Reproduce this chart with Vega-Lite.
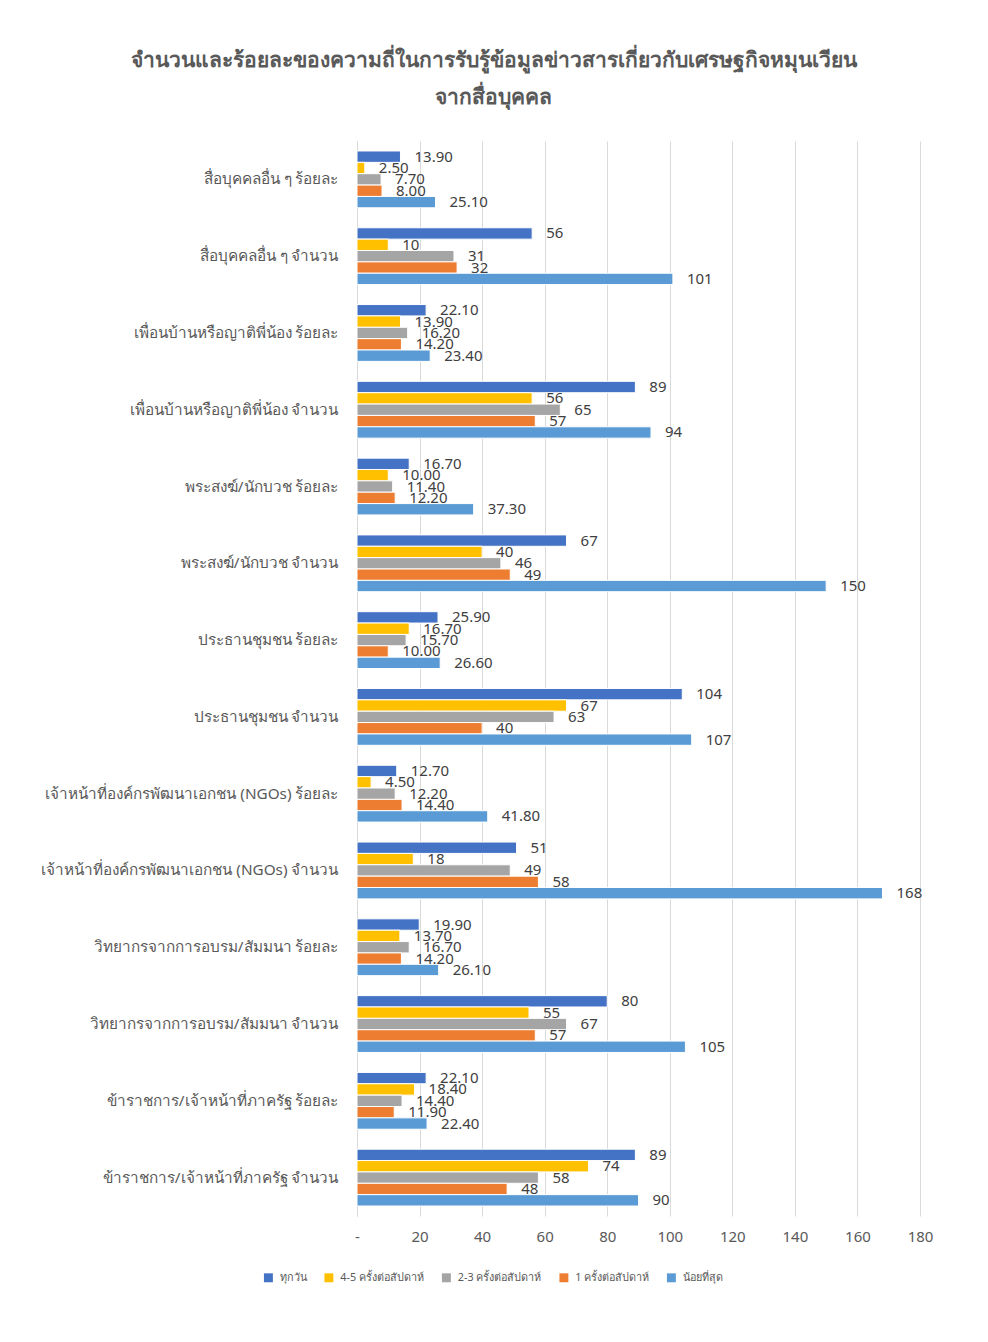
{
  "$schema": "https://vega.github.io/schema/vega-lite/v6.json",
  "width": 563,
  "height": 1075,
  "autosize": {"type": "none"},
  "padding": {"left": 357, "top": 141, "right": 68, "bottom": 126},
  "background": "white",
  "config": {
    "font": "Noto Sans",
    "view": {"stroke": null}
  },
  "title": {
    "text": ["จำนวนและร้อยละของความถี่ในการรับรู้ข้อมูลข่าวสารเกี่ยวกับเศรษฐกิจหมุนเวียน", "จากสื่อบุคคล"],
    "anchor": "middle",
    "frame": "group",
    "dx": -145,
    "offset": 33,
    "fontSize": 21,
    "fontWeight": "bold",
    "color": "#595959",
    "lineHeight": 37
  },
  "data": {
    "values": [
      {"c": "สื่อบุคคลอื่น ๆ ร้อยละ", "s": "ทุกวัน", "v": 13.9},
      {"c": "สื่อบุคคลอื่น ๆ ร้อยละ", "s": "4-5 ครั้งต่อสัปดาห์", "v": 2.5},
      {"c": "สื่อบุคคลอื่น ๆ ร้อยละ", "s": "2-3 ครั้งต่อสัปดาห์", "v": 7.7},
      {"c": "สื่อบุคคลอื่น ๆ ร้อยละ", "s": "1 ครั้งต่อสัปดาห์", "v": 8.0},
      {"c": "สื่อบุคคลอื่น ๆ ร้อยละ", "s": "น้อยที่สุด", "v": 25.1},
      {"c": "สื่อบุคคลอื่น ๆ จำนวน", "s": "ทุกวัน", "v": 56},
      {"c": "สื่อบุคคลอื่น ๆ จำนวน", "s": "4-5 ครั้งต่อสัปดาห์", "v": 10},
      {"c": "สื่อบุคคลอื่น ๆ จำนวน", "s": "2-3 ครั้งต่อสัปดาห์", "v": 31},
      {"c": "สื่อบุคคลอื่น ๆ จำนวน", "s": "1 ครั้งต่อสัปดาห์", "v": 32},
      {"c": "สื่อบุคคลอื่น ๆ จำนวน", "s": "น้อยที่สุด", "v": 101},
      {"c": "เพื่อนบ้านหรือญาติพี่น้อง ร้อยละ", "s": "ทุกวัน", "v": 22.1},
      {"c": "เพื่อนบ้านหรือญาติพี่น้อง ร้อยละ", "s": "4-5 ครั้งต่อสัปดาห์", "v": 13.9},
      {"c": "เพื่อนบ้านหรือญาติพี่น้อง ร้อยละ", "s": "2-3 ครั้งต่อสัปดาห์", "v": 16.2},
      {"c": "เพื่อนบ้านหรือญาติพี่น้อง ร้อยละ", "s": "1 ครั้งต่อสัปดาห์", "v": 14.2},
      {"c": "เพื่อนบ้านหรือญาติพี่น้อง ร้อยละ", "s": "น้อยที่สุด", "v": 23.4},
      {"c": "เพื่อนบ้านหรือญาติพี่น้อง จำนวน", "s": "ทุกวัน", "v": 89},
      {"c": "เพื่อนบ้านหรือญาติพี่น้อง จำนวน", "s": "4-5 ครั้งต่อสัปดาห์", "v": 56},
      {"c": "เพื่อนบ้านหรือญาติพี่น้อง จำนวน", "s": "2-3 ครั้งต่อสัปดาห์", "v": 65},
      {"c": "เพื่อนบ้านหรือญาติพี่น้อง จำนวน", "s": "1 ครั้งต่อสัปดาห์", "v": 57},
      {"c": "เพื่อนบ้านหรือญาติพี่น้อง จำนวน", "s": "น้อยที่สุด", "v": 94},
      {"c": "พระสงฆ์/นักบวช ร้อยละ", "s": "ทุกวัน", "v": 16.7},
      {"c": "พระสงฆ์/นักบวช ร้อยละ", "s": "4-5 ครั้งต่อสัปดาห์", "v": 10.0},
      {"c": "พระสงฆ์/นักบวช ร้อยละ", "s": "2-3 ครั้งต่อสัปดาห์", "v": 11.4},
      {"c": "พระสงฆ์/นักบวช ร้อยละ", "s": "1 ครั้งต่อสัปดาห์", "v": 12.2},
      {"c": "พระสงฆ์/นักบวช ร้อยละ", "s": "น้อยที่สุด", "v": 37.3},
      {"c": "พระสงฆ์/นักบวช จำนวน", "s": "ทุกวัน", "v": 67},
      {"c": "พระสงฆ์/นักบวช จำนวน", "s": "4-5 ครั้งต่อสัปดาห์", "v": 40},
      {"c": "พระสงฆ์/นักบวช จำนวน", "s": "2-3 ครั้งต่อสัปดาห์", "v": 46},
      {"c": "พระสงฆ์/นักบวช จำนวน", "s": "1 ครั้งต่อสัปดาห์", "v": 49},
      {"c": "พระสงฆ์/นักบวช จำนวน", "s": "น้อยที่สุด", "v": 150},
      {"c": "ประธานชุมชน ร้อยละ", "s": "ทุกวัน", "v": 25.9},
      {"c": "ประธานชุมชน ร้อยละ", "s": "4-5 ครั้งต่อสัปดาห์", "v": 16.7},
      {"c": "ประธานชุมชน ร้อยละ", "s": "2-3 ครั้งต่อสัปดาห์", "v": 15.7},
      {"c": "ประธานชุมชน ร้อยละ", "s": "1 ครั้งต่อสัปดาห์", "v": 10.0},
      {"c": "ประธานชุมชน ร้อยละ", "s": "น้อยที่สุด", "v": 26.6},
      {"c": "ประธานชุมชน จำนวน", "s": "ทุกวัน", "v": 104},
      {"c": "ประธานชุมชน จำนวน", "s": "4-5 ครั้งต่อสัปดาห์", "v": 67},
      {"c": "ประธานชุมชน จำนวน", "s": "2-3 ครั้งต่อสัปดาห์", "v": 63},
      {"c": "ประธานชุมชน จำนวน", "s": "1 ครั้งต่อสัปดาห์", "v": 40},
      {"c": "ประธานชุมชน จำนวน", "s": "น้อยที่สุด", "v": 107},
      {"c": "เจ้าหน้าที่องค์กรพัฒนาเอกชน (NGOs) ร้อยละ", "s": "ทุกวัน", "v": 12.7},
      {"c": "เจ้าหน้าที่องค์กรพัฒนาเอกชน (NGOs) ร้อยละ", "s": "4-5 ครั้งต่อสัปดาห์", "v": 4.5},
      {"c": "เจ้าหน้าที่องค์กรพัฒนาเอกชน (NGOs) ร้อยละ", "s": "2-3 ครั้งต่อสัปดาห์", "v": 12.2},
      {"c": "เจ้าหน้าที่องค์กรพัฒนาเอกชน (NGOs) ร้อยละ", "s": "1 ครั้งต่อสัปดาห์", "v": 14.4},
      {"c": "เจ้าหน้าที่องค์กรพัฒนาเอกชน (NGOs) ร้อยละ", "s": "น้อยที่สุด", "v": 41.8},
      {"c": "เจ้าหน้าที่องค์กรพัฒนาเอกชน (NGOs) จำนวน", "s": "ทุกวัน", "v": 51},
      {"c": "เจ้าหน้าที่องค์กรพัฒนาเอกชน (NGOs) จำนวน", "s": "4-5 ครั้งต่อสัปดาห์", "v": 18},
      {"c": "เจ้าหน้าที่องค์กรพัฒนาเอกชน (NGOs) จำนวน", "s": "2-3 ครั้งต่อสัปดาห์", "v": 49},
      {"c": "เจ้าหน้าที่องค์กรพัฒนาเอกชน (NGOs) จำนวน", "s": "1 ครั้งต่อสัปดาห์", "v": 58},
      {"c": "เจ้าหน้าที่องค์กรพัฒนาเอกชน (NGOs) จำนวน", "s": "น้อยที่สุด", "v": 168},
      {"c": "วิทยากรจากการอบรม/สัมมนา ร้อยละ", "s": "ทุกวัน", "v": 19.9},
      {"c": "วิทยากรจากการอบรม/สัมมนา ร้อยละ", "s": "4-5 ครั้งต่อสัปดาห์", "v": 13.7},
      {"c": "วิทยากรจากการอบรม/สัมมนา ร้อยละ", "s": "2-3 ครั้งต่อสัปดาห์", "v": 16.7},
      {"c": "วิทยากรจากการอบรม/สัมมนา ร้อยละ", "s": "1 ครั้งต่อสัปดาห์", "v": 14.2},
      {"c": "วิทยากรจากการอบรม/สัมมนา ร้อยละ", "s": "น้อยที่สุด", "v": 26.1},
      {"c": "วิทยากรจากการอบรม/สัมมนา จำนวน", "s": "ทุกวัน", "v": 80},
      {"c": "วิทยากรจากการอบรม/สัมมนา จำนวน", "s": "4-5 ครั้งต่อสัปดาห์", "v": 55},
      {"c": "วิทยากรจากการอบรม/สัมมนา จำนวน", "s": "2-3 ครั้งต่อสัปดาห์", "v": 67},
      {"c": "วิทยากรจากการอบรม/สัมมนา จำนวน", "s": "1 ครั้งต่อสัปดาห์", "v": 57},
      {"c": "วิทยากรจากการอบรม/สัมมนา จำนวน", "s": "น้อยที่สุด", "v": 105},
      {"c": "ข้าราชการ/เจ้าหน้าที่ภาครัฐ ร้อยละ", "s": "ทุกวัน", "v": 22.1},
      {"c": "ข้าราชการ/เจ้าหน้าที่ภาครัฐ ร้อยละ", "s": "4-5 ครั้งต่อสัปดาห์", "v": 18.4},
      {"c": "ข้าราชการ/เจ้าหน้าที่ภาครัฐ ร้อยละ", "s": "2-3 ครั้งต่อสัปดาห์", "v": 14.4},
      {"c": "ข้าราชการ/เจ้าหน้าที่ภาครัฐ ร้อยละ", "s": "1 ครั้งต่อสัปดาห์", "v": 11.9},
      {"c": "ข้าราชการ/เจ้าหน้าที่ภาครัฐ ร้อยละ", "s": "น้อยที่สุด", "v": 22.4},
      {"c": "ข้าราชการ/เจ้าหน้าที่ภาครัฐ จำนวน", "s": "ทุกวัน", "v": 89},
      {"c": "ข้าราชการ/เจ้าหน้าที่ภาครัฐ จำนวน", "s": "4-5 ครั้งต่อสัปดาห์", "v": 74},
      {"c": "ข้าราชการ/เจ้าหน้าที่ภาครัฐ จำนวน", "s": "2-3 ครั้งต่อสัปดาห์", "v": 58},
      {"c": "ข้าราชการ/เจ้าหน้าที่ภาครัฐ จำนวน", "s": "1 ครั้งต่อสัปดาห์", "v": 48},
      {"c": "ข้าราชการ/เจ้าหน้าที่ภาครัฐ จำนวน", "s": "น้อยที่สุด", "v": 90}
    ]
  },
  "encoding": {
    "y": {
      "field": "c",
      "type": "nominal",
      "sort": null,
      "scale": {"paddingInner": 0.26, "paddingOuter": 0.13},
      "axis": {
        "title": null,
        "ticks": false,
        "domainColor": "#D9D9D9",
        "labelFontSize": 15.3,
        "labelColor": "#595959",
        "labelPadding": 19,
        "labelLimit": 400
      }
    },
    "yOffset": {
      "field": "s",
      "type": "nominal",
      "sort": ["ทุกวัน", "4-5 ครั้งต่อสัปดาห์", "2-3 ครั้งต่อสัปดาห์", "1 ครั้งต่อสัปดาห์", "น้อยที่สุด"],
      "scale": {"paddingInner": 0, "paddingOuter": 0}
    },
    "x": {
      "field": "v",
      "type": "quantitative",
      "scale": {"domain": [0, 180], "nice": false},
      "axis": {
        "title": null,
        "values": [0, 20, 40, 60, 80, 100, 120, 140, 160, 180],
        "labelExpr": "datum.value == 0 ? '-' : datum.label",
        "labelFlush": false,
        "domain": false,
        "ticks": false,
        "gridColor": "#D9D9D9",
        "labelFontSize": 15,
        "labelColor": "#595959",
        "labelPadding": 13
      }
    }
  },
  "layer": [
    {
      "mark": {"type": "bar", "stroke": "white", "strokeWidth": 1},
      "encoding": {
        "color": {
          "field": "s",
          "type": "nominal",
          "scale": {
            "domain": ["ทุกวัน", "4-5 ครั้งต่อสัปดาห์", "2-3 ครั้งต่อสัปดาห์", "1 ครั้งต่อสัปดาห์", "น้อยที่สุด"],
            "range": ["#4472C4", "#FFC000", "#A5A5A5", "#ED7D31", "#5B9BD5"]
          },
          "legend": {
            "title": null,
            "orient": "none",
            "direction": "horizontal",
            "legendX": -94,
            "legendY": 1131,
            "symbolType": "square",
            "symbolSize": 80,
            "symbolStrokeWidth": 0,
            "labelFontSize": 10.8,
            "labelColor": "#595959",
            "labelOffset": 6,
            "columnPadding": 16.5
          }
        }
      }
    },
    {
      "transform": [{"filter": "test(regexp('ร้อยละ'), datum.c)"}],
      "mark": {"type": "text", "align": "left", "baseline": "middle", "dx": 14, "fontSize": 15, "color": "#404040"},
      "encoding": {
        "text": {"field": "v", "type": "quantitative", "format": ".2f"}
      }
    },
    {
      "transform": [{"filter": "test(regexp('จำนวน'), datum.c)"}],
      "mark": {"type": "text", "align": "left", "baseline": "middle", "dx": 14, "fontSize": 15, "color": "#404040"},
      "encoding": {
        "text": {"field": "v", "type": "quantitative", "format": "d"}
      }
    }
  ]
}
